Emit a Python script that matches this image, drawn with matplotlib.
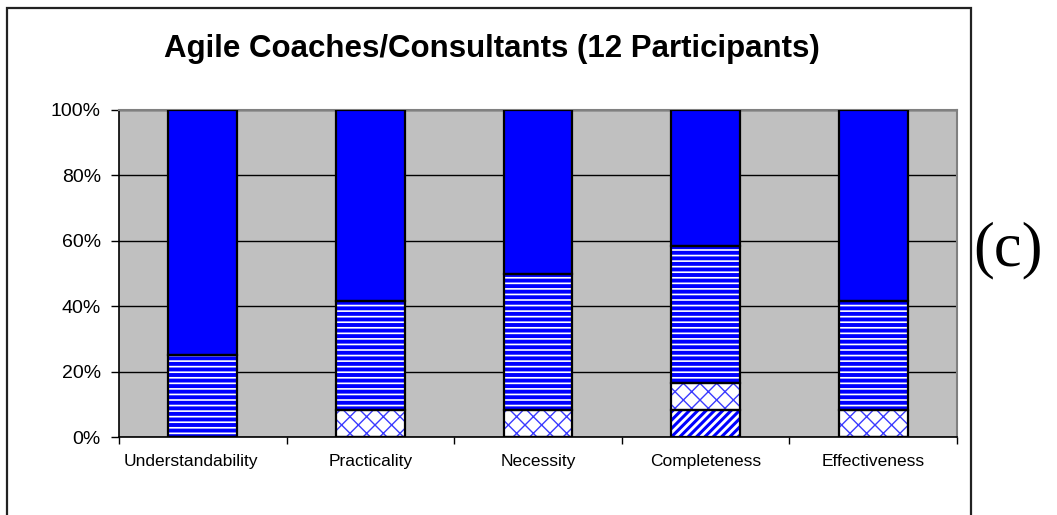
import matplotlib
matplotlib.use("Agg")
import matplotlib.pyplot as plt
import matplotlib.transforms as mtransforms
from matplotlib.patches import Rectangle
import numpy as np

# data: number of participants (of 12) per answer, stacked bottom -> top
categories = ["Understandability", "Practicality", "Necessity", "Completeness", "Effectiveness"]
n_participants = 12
diag_counts = [0, 0, 0, 1, 0]
cross_counts = [0, 1, 1, 1, 1]
stripe_counts = [3, 4, 5, 5, 4]
solid_counts = [9, 7, 6, 5, 7]
y_ticks = [0, 20, 40, 60, 80, 100]
y_labels = ["0%", "20%", "40%", "60%", "80%", "100%"]

plt.rcParams['font.family'] = ['Liberation Sans', 'DejaVu Sans']

fig = plt.figure(figsize=(10.57, 5.15), dpi=100)
ax = fig.add_axes([119 / 1057, 1 - 437 / 515, 838 / 1057, 327 / 515])
ax.set_facecolor("#c0c0c0")

x = np.arange(len(categories))
w = 0.41
blue = "#0000ff"

series = [
    (diag_counts, "white", blue, "////", 2.2),
    (cross_counts, "white", "#3a3aff", "xx", 1.0),
    (stripe_counts, "white", blue, "---", 2.8),
    (solid_counts, blue, blue, None, 0),
]

bottom = np.zeros(len(categories))
for counts, face, hcol, hatch, hlw in series:
    vals = np.array(counts) / n_participants * 100
    if hatch:
        plt.rcParams['hatch.linewidth'] = hlw
        ax.bar(x, vals, w, bottom=bottom, color=face, edgecolor=hcol,
               hatch=hatch, linewidth=0, zorder=3)
    else:
        ax.bar(x, vals, w, bottom=bottom, color=face, linewidth=0, zorder=3)
    # black outline on top
    ax.bar(x, vals, w, bottom=bottom, fill=False, edgecolor="black",
           linewidth=1.6, zorder=4)
    bottom += vals

ax.set_xlim(-0.5, len(categories) - 0.5)
ax.set_ylim(0, 100)
ax.set_yticks(y_ticks)
ax.set_yticklabels(y_labels, fontsize=14)
ax.yaxis.grid(True, color="black", linewidth=1.0, zorder=1)
ax.set_axisbelow(True)

ax.set_xticks(x)
ax.set_xticklabels(categories, fontsize=12.5)
ax.tick_params(axis="x", length=0, pad=12)
ax.set_xticks(np.arange(len(categories) + 1) - 0.5, minor=True)
ax.tick_params(axis="x", which="minor", length=5, width=1, direction="out")
ax.tick_params(axis="y", length=6, width=1, direction="out", pad=7)

# first label sits a little left of its bar in the original
lbl0 = ax.get_xticklabels()[0]
lbl0.set_transform(lbl0.get_transform() +
                   mtransforms.ScaledTranslation(-12 / 100, 0, fig.dpi_scale_trans))

for s in ["top", "right"]:
    ax.spines[s].set_color("#808080")
    ax.spines[s].set_linewidth(1.5)
for s in ["left", "bottom"]:
    ax.spines[s].set_color("black")
    ax.spines[s].set_linewidth(1.2)

fig.text(492 / 1057, 1 - 49 / 515, "Agile Coaches/Consultants (12 Participants)",
         fontsize=22.5, fontweight="bold", ha="center", va="center")

fig.text(1008 / 1057, 1 - 250 / 515, "(c)", family="Liberation Serif",
         fontsize=45, ha="center", va="center")

# outer chart frame
fig.patches.append(Rectangle((7 / 1057, -0.05), 964 / 1057, 1.05 - 8 / 515,
                             transform=fig.transFigure, fill=False,
                             edgecolor="#222222", linewidth=1.6))

fig.savefig("out.png", dpi=100)
